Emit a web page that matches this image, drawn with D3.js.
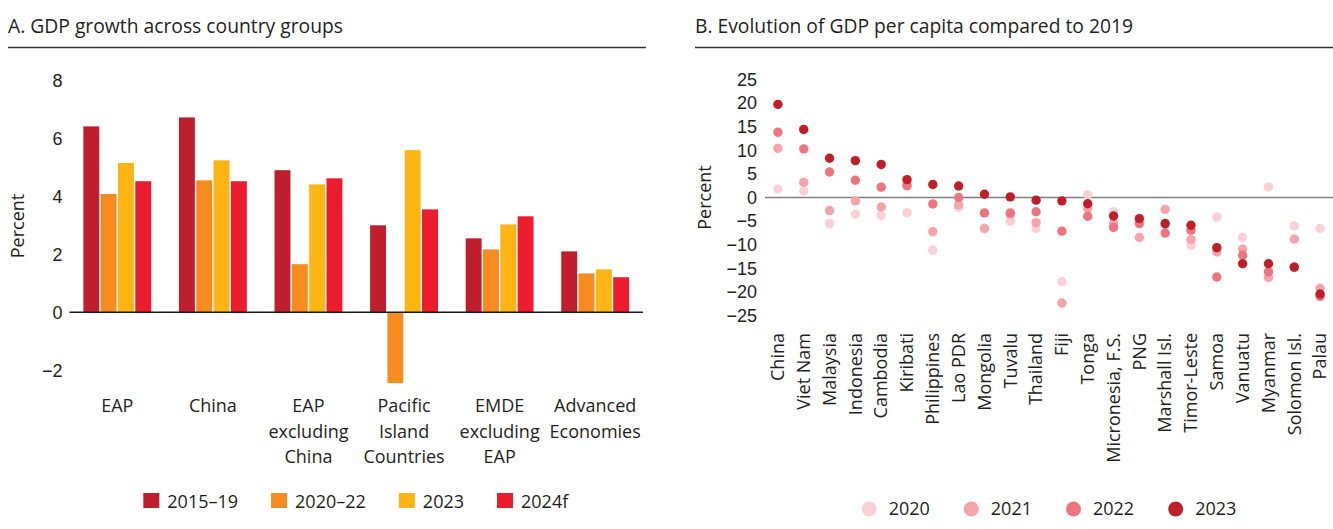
<!DOCTYPE html>
<html>
<head>
<meta charset="utf-8">
<script src="https://d3js.org/d3.v7.min.js"></script>
<style>
    body { margin: 0; background: #fff; }
    svg { display: block; font-family: "Open Sans", "Noto Sans", sans-serif; }
    text { fill: #231f20; }
</style>
</head>
<body>
<svg id="chart" width="1333" height="529"></svg>
<script>
// Panel A: GDP growth across country groups
var groups = [
    ['EAP'],
    ['China'],
    ['EAP', 'excluding', 'China'],
    ['Pacific', 'Island', 'Countries'],
    ['EMDE', 'excluding', 'EAP'],
    ['Advanced', 'Economies']
];
var periods = ['2015–19', '2020–22', '2023', '2024f'];
var growth2015_19 = [6.41, 6.72, 4.90, 3.00, 2.55, 2.10];
var growth2020_22 = [4.08, 4.55, 1.66, -2.44, 2.17, 1.34];
var growth2023 = [5.15, 5.24, 4.41, 5.59, 3.03, 1.48];
var growth2024f = [4.52, 4.52, 4.62, 3.55, 3.31, 1.21];
var growthTicks = [-2, 0, 2, 4, 6, 8];
var periodColors = ['#be1e2d', '#f68b1f', '#fdb515', '#eb1c2d'];

// Panel B: GDP per capita compared to 2019
var countries = ['China', 'Viet Nam', 'Malaysia', 'Indonesia', 'Cambodia', 'Kiribati',
    'Philippines', 'Lao PDR', 'Mongolia', 'Tuvalu', 'Thailand', 'Fiji', 'Tonga',
    'Micronesia, F.S.', 'PNG', 'Marshall Isl.', 'Timor-Leste', 'Samoa', 'Vanuatu',
    'Myanmar', 'Solomon Isl.', 'Palau'];
var years = ['2020', '2021', '2022', '2023'];
var gdp2020 = [1.8, 1.4, -5.5, -3.5, -3.8, -3.2, -11.1, -2.1, -6.5, -5.0, -6.55, -17.8, 0.6,
    -3.0, -4.5, -5.6, -10.1, -4.1, -8.45, 2.25, -6.0, -6.55];
var gdp2021 = [10.4, 3.2, -2.75, -0.7, -2.0, 3.0, -7.2, -1.55, -6.55, -3.5, -5.3, -22.3, -2.3,
    -5.5, -8.45, -2.5, -8.9, -11.5, -10.9, -16.9, -8.8, -19.2];
var gdp2022 = [13.8, 10.3, 5.4, 3.66, 2.2, 2.5, -1.35, 0.0, -3.25, -3.25, -3.0, -7.1, -3.95,
    -6.3, -5.5, -7.5, -6.9, -16.8, -12.2, -15.7, -14.7, -20.9];
var gdp2023 = [19.7, 14.4, 8.3, 7.8, 7.0, 3.8, 2.75, 2.45, 0.7, 0.15, -0.55, -0.7, -1.3,
    -3.9, -4.45, -5.5, -5.85, -10.6, -14.0, -14.0, -14.7, -20.4];
var gdpTicks = [-25, -20, -15, -10, -5, 0, 5, 10, 15, 20, 25];
var yearColors = ['#f9d0d5', '#f6a4ab', '#f07480', '#c01f2a'];

var svg = d3.select('#chart'),
    fontSize = 18,
    titleSize = 19.3;

/**
 * Panel title with the rule underneath.
 */
function panelTitle(text, x0, x1) {
    svg.append('text')
        .attr('x', x0)
        .attr('y', 32.5)
        .style('font-size', titleSize + 'px')
        .text(text);
    svg.append('line')
        .attr('x1', x0).attr('x2', x1)
        .attr('y1', 47.5).attr('y2', 47.5)
        .attr('stroke', '#333')
        .attr('stroke-width', 1.5);
}

function yLabel(x, y) {
    svg.append('text')
        .attr('transform', 'translate(' + x + ',' + y + ') rotate(-90)')
        .attr('text-anchor', 'middle')
        .attr('dy', '0.35em')
        .style('font-size', fontSize + 'px')
        .text('Percent');
}

function styleAxis(g) {
    g.select('.domain').remove();
    g.selectAll('.tick line').remove();
    g.selectAll('text')
        .style('font-size', fontSize + 'px')
        .style('font-family', 'inherit')
        .attr('fill', '#231f20');
}

// ---------- Panel A ----------
(function () {
    var left = 69.5, right = 643,
        series = [growth2015_19, growth2020_22, growth2023, growth2024f],
        x0 = d3.scaleBand()
            .domain(d3.range(groups.length))
            .range([left, right])
            .paddingInner(0.29)
            .paddingOuter(0.145),
        x1 = d3.scaleBand()
            .domain(d3.range(periods.length))
            .range([0, x0.bandwidth()])
            .paddingInner(0.08),
        y = d3.scaleLinear().domain([-2, 8]).range([370.3, 80.3]);

    panelTitle('A. GDP growth across country groups', 8, 646);

    svg.append('g')
        .attr('transform', 'translate(' + left + ',0)')
        .call(d3.axisLeft(y).tickValues(growthTicks).tickSize(0).tickPadding(7)
            .tickFormat(d3.format('d')))
        .call(styleAxis);

    yLabel(18, 226);

    var groupG = svg.append('g').selectAll('g')
        .data(groups)
        .join('g')
        .attr('transform', function (d, i) { return 'translate(' + x0(i) + ',0)'; });

    groupG.selectAll('rect')
        .data(function (d, i) {
            return series.map(function (s, j) { return {period: j, value: s[i]}; });
        })
        .join('rect')
        .attr('x', function (d) { return x1(d.period); })
        .attr('width', x1.bandwidth())
        .attr('y', function (d) { return y(Math.max(0, d.value)); })
        .attr('height', function (d) { return Math.abs(y(d.value) - y(0)); })
        .attr('fill', function (d) { return periodColors[d.period]; });

    svg.append('line')
        .attr('x1', left).attr('x2', right)
        .attr('y1', y(0)).attr('y2', y(0))
        .attr('stroke', '#1a1a1a')
        .attr('stroke-width', 1.6);

    // category labels, one tspan per line
    svg.append('g').selectAll('text')
        .data(groups)
        .join('text')
        .attr('text-anchor', 'middle')
        .style('font-size', fontSize + 'px')
        .each(function (lines, i) {
            var t = d3.select(this);
            lines.forEach(function (line, k) {
                t.append('tspan')
                    .attr('x', x0(i) + x0.bandwidth() / 2)
                    .attr('y', 412 + k * 25.5)
                    .text(line);
            });
        });

    // legend, centred under the plot
    var legend = svg.append('g'),
        cx = 137;
    periods.forEach(function (p, i) {
        legend.append('rect')
            .attr('x', cx).attr('y', 493)
            .attr('width', 16).attr('height', 15)
            .attr('fill', periodColors[i]);
        var t = legend.append('text')
            .attr('x', cx + 24).attr('y', 507.5)
            .style('font-size', fontSize + 'px')
            .text(p);
        cx += 24 + t.node().getComputedTextLength() + 33;
    });
    var lb = legend.node().getBBox();
    legend.attr('transform', 'translate(' + ((left + right) / 2 - (lb.x + lb.width / 2)) + ',0)');
}());

// ---------- Panel B ----------
(function () {
    var left = 765, right = 1333,
        series = [gdp2020, gdp2021, gdp2022, gdp2023],
        x = d3.scaleBand().domain(countries).range([left, right]),
        y = d3.scaleLinear().domain([-25, 25]).range([315.8, 79.3]);

    panelTitle('B. Evolution of GDP per capita compared to 2019', 695, 1333);

    svg.append('g')
        .attr('transform', 'translate(' + left + ',0)')
        .call(d3.axisLeft(y).tickValues(gdpTicks).tickSize(0).tickPadding(8)
            .tickFormat(d3.format('d')))
        .call(styleAxis);

    yLabel(705, y(0));

    svg.append('line')
        .attr('x1', left).attr('x2', right)
        .attr('y1', y(0)).attr('y2', y(0))
        .attr('stroke', '#7f7f7f')
        .attr('stroke-width', 1.5);

    // dots drawn year by year so the later years sit on top
    series.forEach(function (s, j) {
        svg.append('g').selectAll('circle')
            .data(s)
            .join('circle')
            .attr('cx', function (d, i) { return x(countries[i]) + x.bandwidth() / 2; })
            .attr('cy', function (d) { return y(d); })
            .attr('r', 4.7)
            .attr('fill', yearColors[j]);
    });

    svg.append('g').selectAll('text')
        .data(countries)
        .join('text')
        .attr('transform', function (d) {
            return 'translate(' + (x(d) + x.bandwidth() / 2) + ',333) rotate(-90)';
        })
        .attr('text-anchor', 'end')
        .attr('dy', '0.35em')
        .style('font-size', fontSize + 'px')
        .text(function (d) { return d; });

    var legend = svg.append('g'),
        cx = 866.7;
    years.forEach(function (yr, i) {
        legend.append('circle')
            .attr('cx', cx).attr('cy', 509)
            .attr('r', 7.5)
            .attr('fill', yearColors[i]);
        var t = legend.append('text')
            .attr('x', cx + 19.5).attr('y', 509)
            .attr('dy', '0.35em')
            .style('font-size', fontSize + 'px')
            .text(yr);
        cx += 19.5 + t.node().getComputedTextLength() + 34 + 7.5;
    });
    var lb = legend.node().getBBox();
    legend.attr('transform', 'translate(' + ((left + right) / 2 - (lb.x + lb.width / 2)) + ',0)');
}());
</script>
</body>
</html>
